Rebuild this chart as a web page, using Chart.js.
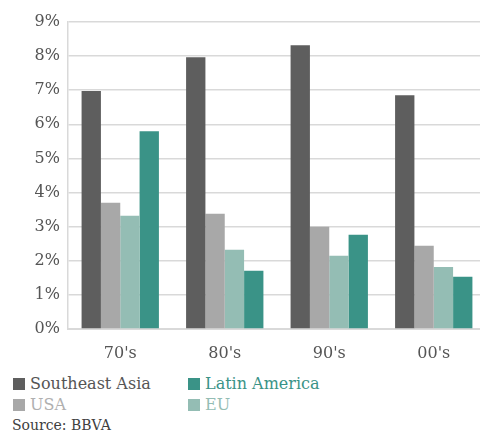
<!DOCTYPE html>
<html lang="en">
<head>
<meta charset="UTF-8">
<title>Growth by decade</title>
<script src="https://cdn.jsdelivr.net/npm/chart.js"></script>
<style>
    body {
        margin: 0;
        width: 480px;
        height: 432px;
        overflow: hidden;
        background: #fff;
        font-family: "DejaVu Serif", serif;
        position: relative;
    }
    #wrap {
        position: absolute;
        left: 0;
        top: 0;
        width: 490px;
        height: 366px;
    }
    #legend {
        position: absolute;
        left: 0;
        top: 374px;
        width: 480px;
    }
    .item {
        position: absolute;
        font-size: 16px;
        line-height: 20px;
        white-space: nowrap;
    }
    .item span.box {
        position: absolute;
        left: 0;
        top: 4px;
        width: 12px;
        height: 12px;
    }
    .item span.txt {
        position: absolute;
        left: 17px;
        top: 0;
    }
    #source {
        position: absolute;
        left: 12px;
        top: 417px;
        font-size: 14px;
        color: #404040;
    }
</style>
</head>
<body>
<div id="wrap"><canvas id="myChart"></canvas></div>
<div id="legend"></div>
<div id="source">Source: BBVA</div>

<script>
    const categories = ["70's", "80's", "90's", "00's"];
    const southeastAsia = [6.98, 7.97, 8.32, 6.85];
    const usa = [3.7, 3.38, 3.0, 2.44];
    const eu = [3.32, 2.32, 2.15, 1.82];
    const latinAmerica = [5.8, 1.71, 2.76, 1.53];
    const seriesNames = ['Southeast Asia', 'USA', 'EU', 'Latin America'];
    const seriesColors = ['#5e5e5e', '#a8a8a8', '#94bdb4', '#3a9387'];
    const legendText = ['#555555', '#b0b0b0', '#94bdb4', '#3a9387'];
    const yMax = 9;

    const values = [southeastAsia, usa, eu, latinAmerica];

    const ctx = document.getElementById('myChart').getContext('2d');
    const chart = new Chart(ctx, {
        type: 'bar',
        data: {
            labels: categories,
            datasets: values.map((v, i) => ({
                label: seriesNames[i],
                data: v,
                backgroundColor: seriesColors[i],
                borderWidth: 0,
                barPercentage: 1,
                categoryPercentage: 0.74
            }))
        },
        options: {
            responsive: true,
            maintainAspectRatio: false,
            animation: false,
            layout: { padding: { top: 22, right: 4, left: 0, bottom: 0 } },
            plugins: {
                legend: { display: false },
                tooltip: { enabled: false }
            },
            scales: {
                x: {
                    grid: { display: false },
                    border: { color: '#d9d9d9', width: 2 },
                    ticks: {
                        color: '#555555',
                        font: { family: 'DejaVu Serif', size: 16 },
                        padding: 7
                    },
                    afterFit: s => { s.height = 37; }
                },
                y: {
                    min: 0,
                    max: yMax,
                    grid: { color: '#d9d9d9', lineWidth: 1.5, drawTicks: false },
                    border: { color: '#d9d9d9', width: 1.5 },
                    ticks: {
                        stepSize: 1,
                        color: '#555555',
                        font: { family: 'DejaVu Serif', size: 16 },
                        padding: 8,
                        callback: v => v + '%'
                    },
                    afterFit: s => { s.width = 68; }
                }
            }
        }
    });

    // legend in two columns: column-major like the original
    const legendOrder = [0, 3, 1, 2];
    const legendPos = [[13, 0], [188, 0], [13, 21], [188, 21]];
    const legend = document.getElementById('legend');
    legendOrder.forEach((idx, k) => {
        const ds = chart.data.datasets[idx];
        const el = document.createElement('div');
        el.className = 'item';
        el.style.left = legendPos[k][0] + 'px';
        el.style.top = legendPos[k][1] + 'px';
        el.innerHTML = '<span class="box" style="background:' + ds.backgroundColor + '"></span>' +
            '<span class="txt" style="color:' + legendText[idx] + '">' + ds.label + '</span>';
        legend.appendChild(el);
    });
</script>
</body>
</html>
